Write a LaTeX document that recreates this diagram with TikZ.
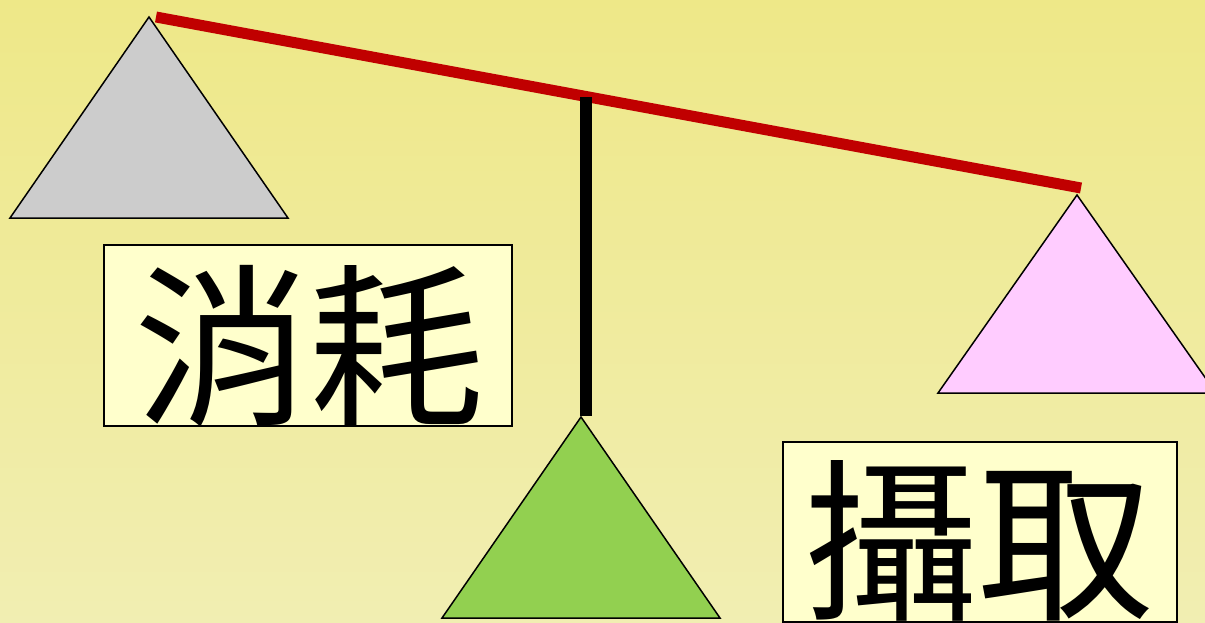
\documentclass[tikz,border=0pt]{standalone}
\usepackage{fontspec}
\newfontfamily\cjk{Noto Sans CJK TC}
\definecolor{bgtop}{RGB}{238,232,136}
\definecolor{bgbot}{RGB}{241,238,178}
\definecolor{beamred}{RGB}{192,0,0}
\definecolor{trigray}{RGB}{204,204,204}
\definecolor{trigreen}{RGB}{146,208,80}
\definecolor{tripink}{RGB}{255,204,255}
\definecolor{boxfill}{RGB}{255,255,204}
\tikzset{
  tri/.style={draw=black, line width=1.5pt, line join=miter},
  labelbox/.style={draw=black, line width=1.5pt, fill=boxfill},
  bigword/.style={inner sep=0pt, anchor=base, font=\cjk\fontsize{175}{175}\selectfont, text=black},
}
\begin{document}
\begin{tikzpicture}[x=1pt, y=-1pt]
\useasboundingbox (0,0) rectangle (1205,623);
\begin{scope}
\clip (0,0) rectangle (1205,623);
\shade[top color=bgtop, bottom color=bgbot] (0,0) rectangle (1205,623);
% pans
\filldraw[tri, fill=trigray] (149,17) -- (10,218) -- (288,218) -- cycle;
\filldraw[tri, fill=tripink] (1077,195) -- (938,393) -- (1216,393) -- cycle;
% beam
\draw[beamred, line width=11pt] (156,17) -- (1081,188);
% post
\fill[black] (580,97) rectangle (592,416);
% base
\filldraw[tri, fill=trigreen] (581,417) -- (442,618) -- (720,618) -- cycle;
% label boxes
\draw[labelbox] (104,245) rectangle (512,426);
\draw[labelbox] (783,442) rectangle (1177,622);
\node[bigword] (consume) at (309,412) {消耗};
\node[bigword] (intake) at (978,607) {攝取};
\end{scope}
\end{tikzpicture}
\end{document}
